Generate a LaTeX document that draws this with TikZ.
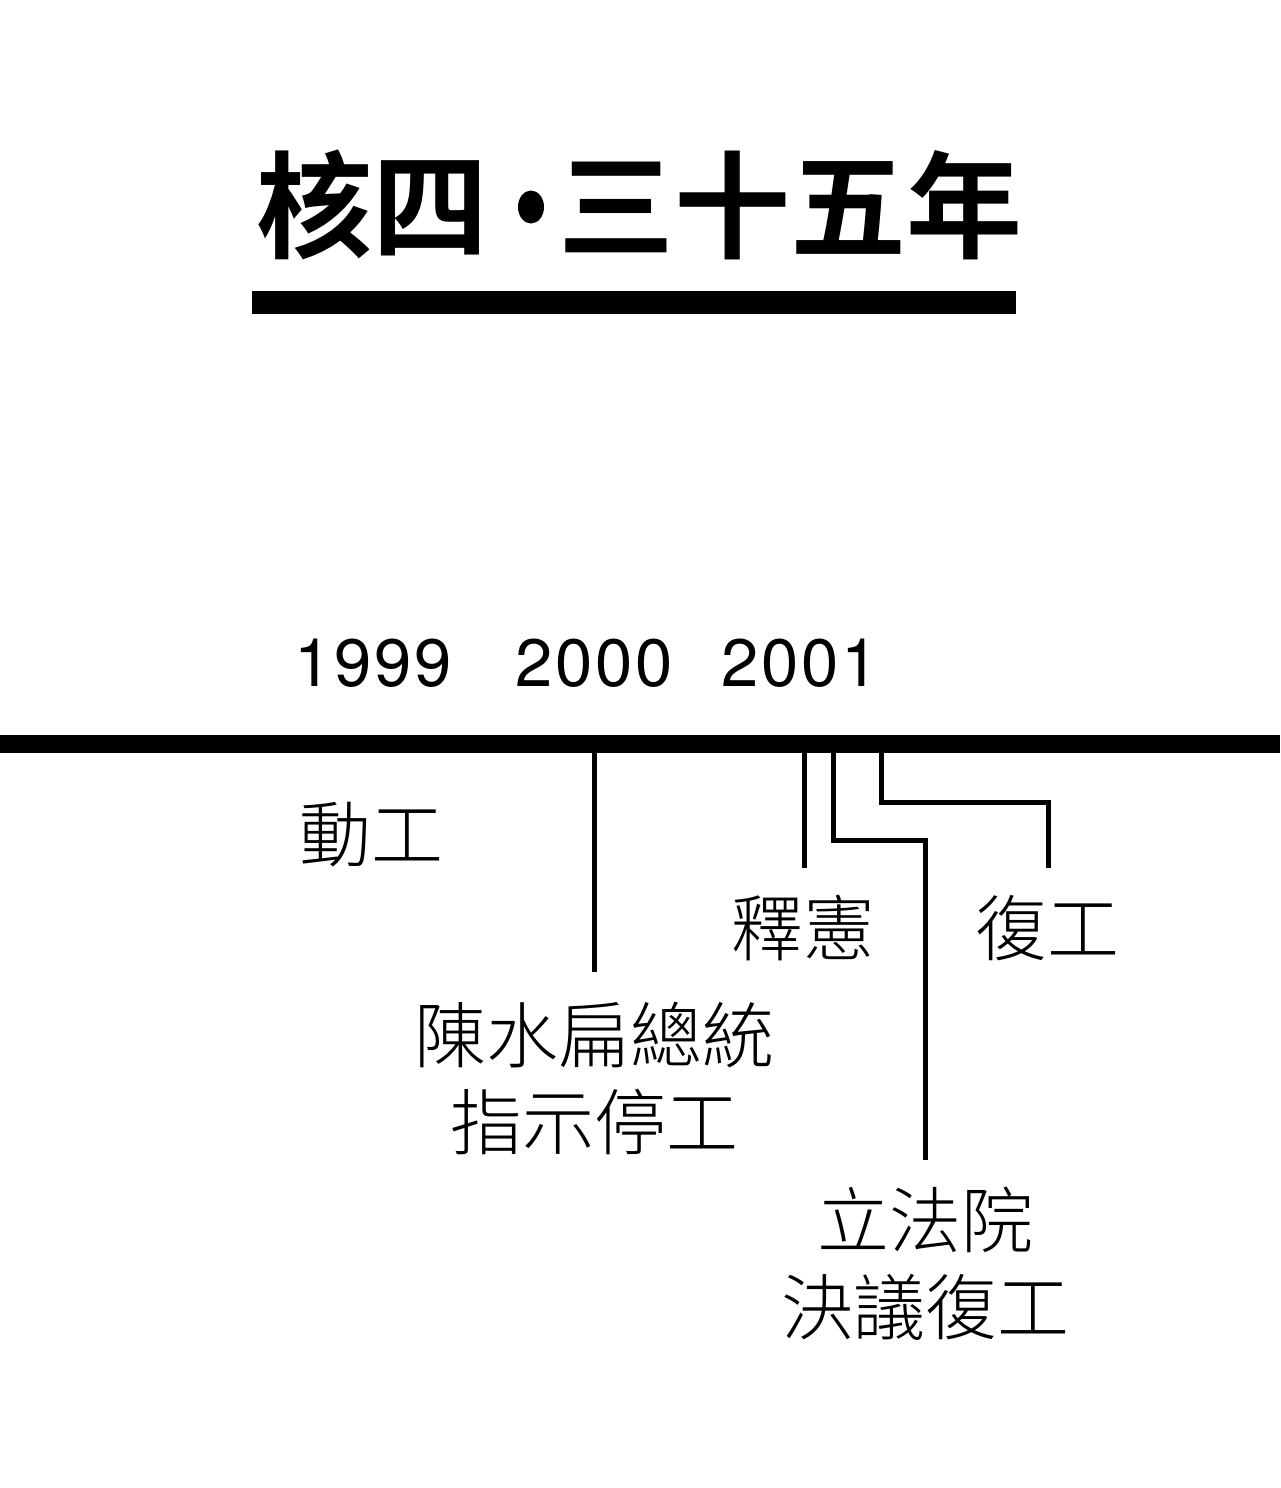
\documentclass[tikz,border=0pt]{standalone}
\usepackage{fontspec}
\newfontfamily\titlefont{Noto Sans CJK TC}[UprightFont=* Bold]
\newfontfamily\labelfont{Noto Sans CJK TC}[UprightFont=* Light]
\newfontfamily\yearfont{TeX Gyre Heros}[LetterSpace=4]
\begin{document}
\begin{tikzpicture}[x=1pt,y=-1pt,
  titletext/.style={inner sep=0pt,font=\titlefont\fontsize{116}{120}\selectfont},
  yeartext/.style={inner sep=0pt,font=\yearfont\fontsize{67}{70}\selectfont},
  eventtext/.style={inner sep=0pt,align=center,font=\labelfont\fontsize{72}{87}\selectfont},
  leader/.style={line width=5pt,line cap=butt,line join=miter}]
\useasboundingbox (0,0) rectangle (1280,1488);

% title with its underline
\node[titletext] (t1) at (372,205) {核四};
\fill (531,207) ellipse [x radius=13, y radius=16.5];
\node[titletext] (t2) at (790,205) {三十五年};
\fill (252,291) rectangle (1016,314);

% years above the time axis
\node[yeartext] (y1999) at (373,663) {1999};
\node[yeartext] (y2000) at (594,663) {2000};
\node[yeartext] (y2001) at (800,663) {2001};

% time axis
\fill (0,735) rectangle (1280,753);
\coordinate (axis) at (0,744);

% events
\node[eventtext] (e1) at (371,835) {動工};
\node[eventtext] (e2) at (594,1078) {陳水扁總統\\指示停工};
\node[eventtext] (e3) at (803,928) {釋憲};
\node[eventtext] (e4) at (925,1264) {立法院\\決議復工};
\node[eventtext] (e5) at (1047,928) {復工};

% leader lines hanging from the axis
\coordinate (l2) at (594,972);
\coordinate (l3) at (804,868);
\coordinate (l4) at (925,1160);
\coordinate (l5) at (1048,868);
\draw[leader] (axis -| l2) -- (l2);
\draw[leader] (axis -| l3) -- (l3);
\draw[leader] (833,744) |- (925,840) -- (l4);
\draw[leader] (881,744) |- (1048,802) -- (l5);
\end{tikzpicture}
\end{document}
